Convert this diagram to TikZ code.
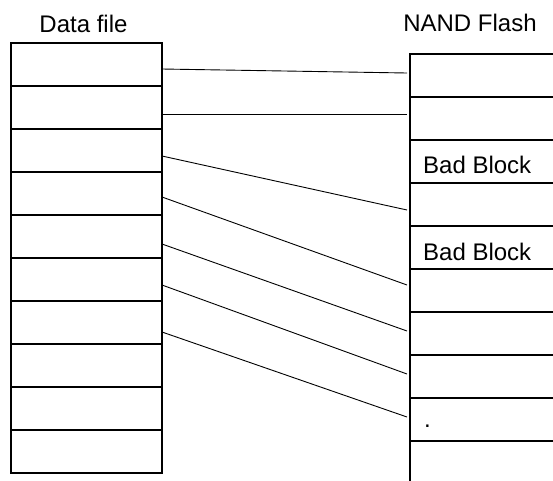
\documentclass[tikz,border=0pt]{standalone}
\usepackage{fontspec}
\setmainfont{Liberation Sans}
\usepackage{tikz}

\begin{document}
\begin{tikzpicture}[x=1pt,y=-1pt,
  cell/.style={draw,line width=1.6pt,minimum width=151pt,minimum height=43pt,inner sep=0pt,outer sep=0pt},
  flash/.style={cell,minimum width=150pt},
  txt/.style={font=\fontsize{24}{28}\selectfont,inner sep=0pt},
  link/.style={line width=0.9pt}]
  \useasboundingbox (0,0) rectangle (553,480);
  \clip (0,0) rectangle (553,480);
  \foreach \i in {1,...,10}
    \node[cell] (d\i) at (86.5,{43*\i+21.5}) {};
  \foreach \i in {1,...,10}
    \node[flash] (f\i) at (485,{43*\i+32.5}) {};
  \node[txt,anchor=base] (dtitle) at (83.5,32) {Data file};
  \node[txt,anchor=base] (ftitle) at (470,31) {NAND Flash};
  \node[txt,anchor=base west] (bad1) at (423,173) {Bad Block};
  \node[txt,anchor=base west] (bad2) at (423,260) {Bad Block};
  \node[txt,anchor=base west] (dot) at (424,427) {.};
  \foreach \a/\b/\s/\t in {1/1/-4.5/2.5,2/2/-6.5/4.5,3/4/-5.5/-5.5,4/6/-3.5/5.5,5/7/-7.5/2.5,6/8/-5.5/2.5,7/9/-9.5/2.5}
    \draw[link] ([yshift=\s pt]d\a.east) -- ([xshift=-3pt,yshift=\t pt]f\b.west);
\end{tikzpicture}
\end{document}
